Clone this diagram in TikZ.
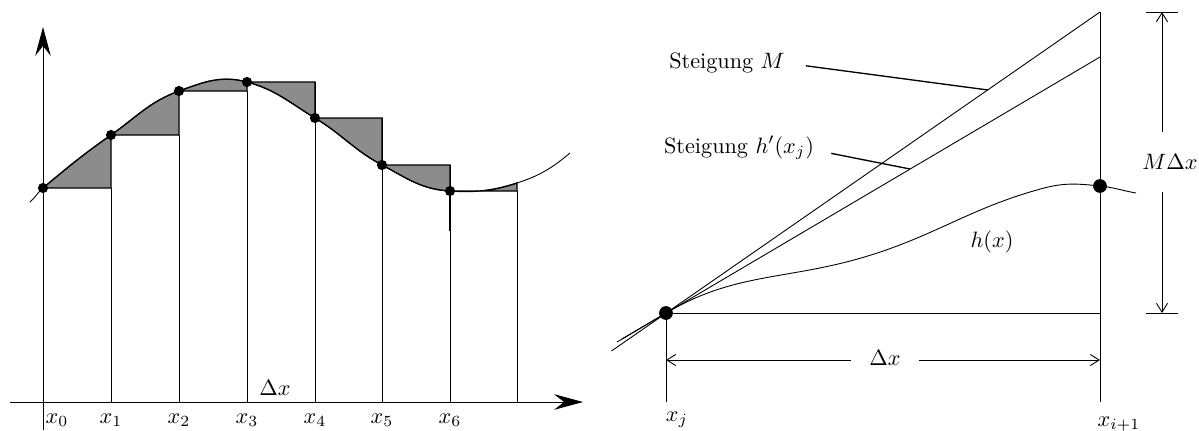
\documentclass[tikz,border=0pt]{standalone}
\usepackage{amsmath}
\usetikzlibrary{arrows.meta}
\tikzset{
  achse/.style={-{Stealth[length=13pt,width=7pt,inset=4.5pt]}},
  streifen/.style={fill=black!45,draw=black,semithick},
  masspfeil/.style={-{Straight Barb[length=4pt,width=5pt]}},
  zeiger/.style={semithick},
  marke/.style={anchor=base},
}

\begin{document}
\begin{tikzpicture}[x=0.45pt,y=0.45pt]
  \useasboundingbox (0,0) rectangle (1199,430);
  % links: Streifen unter h(x)
  \coordinate (S) at (30,228);
  \coordinate (P0) at (43,242);
  \coordinate (P1) at (111,295);
  \coordinate (P2) at (179,339);
  \coordinate (P3) at (247,348);
  \coordinate (P4) at (315,312);
  \coordinate (P5) at (382,265);
  \coordinate (P6) at (450,239);
  \coordinate (P7) at (517,247);
  \coordinate (E) at (570,277);
  \coordinate (ax) at (10,28);
  \coordinate (axe) at (583,28);
  \coordinate (ay) at (43,0);
  \coordinate (aye) at (43,403);
  \coordinate (lab) at (0,7);

  \filldraw[streifen] (P0) to[out=40,in=215] (P1) -- (P1 |- P0) -- cycle;
  \filldraw[streifen] (P1) to[out=35,in=200] (P2) -- (P2 |- P1) -- cycle;
  \filldraw[streifen] (P2) to[out=20,in=165] (P3) -- (P3 |- P2) -- cycle;
  \filldraw[streifen] (P3) to[out=-15,in=149] (P4) -- (P4 |- P3) -- cycle;
  \filldraw[streifen] (P4) to[out=-31,in=152] (P5) -- (P5 |- P4) -- cycle;
  \filldraw[streifen] (P5) to[out=-28,in=177] (P6) -- (P6 |- P5) -- cycle;
  \filldraw[streifen] (P6) to[out=-3,in=198] (P7) -- (P7 |- P6) -- cycle;
  \foreach \a/\b in {P0/P1,P1/P2,P2/P3,P3/P4,P4/P5,P5/P6,P6/P7}
    \draw (\b |- ax) -- (\b |- \a);
  \draw[thick] (P6) -- ++(0,-40);
  \draw[achse] (ax) -- (axe);
  \draw[achse] (ay) -- (aye);
  \draw (S) to[out=40,in=220] (P0) to[out=40,in=215] (P1) to[out=35,in=200] (P2)
    to[out=20,in=165] (P3) to[out=-15,in=149] (P4) to[out=-31,in=152] (P5)
    to[out=-28,in=177] (P6) to[out=-3,in=198] (P7) to[out=18,in=220] (E);
  \foreach \p in {P0,P1,P2,P3,P4,P5,P6}
    \fill (\p) circle[radius=2.3pt];
  \node[marke] (l0) at (57,7) {$x_0$};
  \foreach \i in {1,...,6}
    \node[marke] (l\i) at (P\i |- lab) {$x_\i$};
  \node[marke] (dxl) at (275,35) {$\Delta x$};

  % rechts: Abschaetzung mit Steigung M
  \coordinate (A) at (666,117);
  \coordinate (B) at (1100,244);
  \coordinate (Mtop) at (1100,418);
  \coordinate (Htop) at (1100,373);
  \coordinate (Mend) at (611.5,79);
  \coordinate (Hend) at (617,88);
  \coordinate (Abot) at (666,28);
  \coordinate (Bbot) at (1100,28);
  \coordinate (Hs) at (622,91);
  \coordinate (K1) at (860,171.7);
  \coordinate (K2) at (1043,241.7);
  \coordinate (HE) at (1136,237);
  \coordinate (zM) at (988,340);
  \coordinate (zh) at (910,261);

  \draw (Mend) -- (Mtop);
  \draw (Hend) -- (Htop);
  \draw (Hs) -- (A) to[out=30.5,in=196] (K1) to[out=16,in=195] (K2)
    to[out=15,in=174] (B) to[out=-6,in=170] (HE);
  \draw (A) -- (A -| B);
  \draw (A) -- (Abot);
  \draw (Mtop) -- (Bbot);
  \fill (A) circle[radius=3.1pt];
  \fill (B) circle[radius=3.1pt];

  \node[marke] (lM) at (727,362) {Steigung $M$};
  \node[marke] (lh) at (739,277) {Steigung $h'(x_j)$};
  \node[marke] (lhx) at (992,183) {$h(x)$};
  \draw[zeiger] ([xshift=6pt,yshift=-1.5pt]lM.east) -- (zM);
  \draw[zeiger] ([xshift=4.3pt,yshift=-2.5pt]lh.east) -- (zh);
  \node[marke] (lj) at (677,9) {$x_j$};
  \node[marke] (li) at (1119,4) {$x_{i+1}$};

  % Masspfeile
  \coordinate (da) at (666,70);
  \coordinate (db) at (1100,70);
  \node[inner xsep=8pt] (dxr) at (885,72) {$\Delta x$};
  \draw[masspfeil] (dxr.west |- da) -- (da);
  \draw[masspfeil] (dxr.east |- db) -- (db);
  \coordinate (mo) at (1162,418);
  \coordinate (mu) at (1162,117);
  \node[inner ysep=10pt] (mdx) at (1170,268) {$M\Delta x$};
  \draw[masspfeil] (mdx.north -| mo) -- (mo);
  \draw[masspfeil] (mdx.south -| mu) -- (mu);
  \draw ([xshift=-7pt]mo) -- ([xshift=7pt]mo);
  \draw ([xshift=-7pt]mu) -- ([xshift=7pt]mu);
\end{tikzpicture}
\end{document}
